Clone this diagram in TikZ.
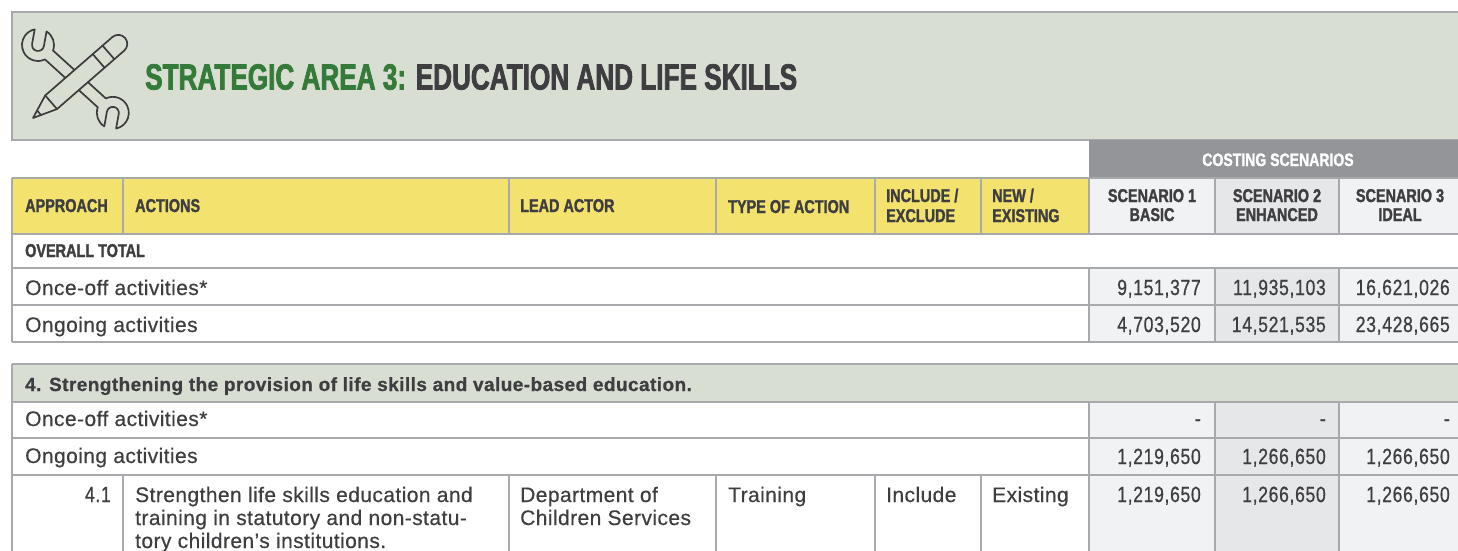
\documentclass[tikz,border=0pt]{standalone}
\usepackage{fontspec}
\setmainfont{Liberation Sans}
\newfontfamily\bodyfont{Liberation Sans}[LetterSpace=2,FakeBold=0.4]
\newfontfamily\numfont{Liberation Sans}[FakeStretch=0.8,LetterSpace=3,FakeBold=0.6]
\newfontfamily\hdfont{Liberation Sans Bold}[FakeStretch=0.78,FakeBold=1.5]
\newfontfamily\secfont{Liberation Sans Bold}[LetterSpace=2.3,FakeBold=0.8]
\newfontfamily\titlefont{Liberation Sans Bold}[FakeStretch=0.72,FakeBold=2]
\definecolor{bgbox}{RGB}{217,222,211}
\definecolor{bordr}{RGB}{167,169,172}
\definecolor{yel}{RGB}{243,227,110}
\definecolor{costgray}{RGB}{147,149,152}
\definecolor{scA}{RGB}{241,242,243}
\definecolor{scB}{RGB}{230,231,232}
\definecolor{txt}{RGB}{62,62,64}
\definecolor{grn}{RGB}{52,122,56}
\definecolor{iconc}{RGB}{60,60,60}
\begin{document}
\begin{tikzpicture}[x=1pt,y=-1pt,
  hd/.style={font=\hdfont\fontsize{18.5}{21}\selectfont, text=txt, inner sep=0pt, anchor=base west},
  hdc/.style={hd, anchor=base},
  bd/.style={font=\bodyfont\fontsize{21}{24}\selectfont, text=txt, inner sep=0pt, anchor=base west},
  nm/.style={font=\numfont\fontsize{22}{24}\selectfont, text=txt, inner sep=0pt, anchor=base east},
  gridline/.style={draw=bordr, line width=1.4pt},
  icon/.style={draw=iconc, line width=1.7pt, line join=round, line cap=round}]
\useasboundingbox (0,0) rectangle (1458,551);
\clip (0,0) rectangle (1458,551);
\fill[white] (0,0) rectangle (1458,551);

% title box
\fill[bgbox] (12,12) rectangle (1470,140);
\draw[gridline] (1470,12) -- (12,12) -- (12,140) -- (1470,140);

% costing band
\fill[costgray] (1089,140) rectangle (1470,178);

% header row fills
\fill[yel] (12,178) rectangle (1089,234);
\fill[scA] (1089,178) rectangle (1215,234);
\fill[scB] (1215,178) rectangle (1339,234);
\fill[scA] (1339,178) rectangle (1470,234);
% top table scenario cells
\fill[scA] (1089,268) rectangle (1215,342);
\fill[scB] (1215,268) rectangle (1339,342);
\fill[scA] (1339,268) rectangle (1470,342);
% section table
\fill[bgbox] (12,364) rectangle (1470,402);
\fill[scA] (1089,402) rectangle (1215,560);
\fill[scB] (1215,402) rectangle (1339,560);
\fill[scA] (1339,402) rectangle (1470,560);

% grid top table
\foreach \yy in {178,234,268,305,342} \draw[gridline] (12,\yy) -- (1470,\yy);
\draw[gridline] (12,178) -- (12,342);
\foreach \xx in {123,509,716,875,981,1089,1215,1339} \draw[gridline] (\xx,178) -- (\xx,234);
\foreach \xx in {1089,1215,1339} \draw[gridline] (\xx,268) -- (\xx,342);
% grid section table
\foreach \yy in {364,402,438,475} \draw[gridline] (12,\yy) -- (1470,\yy);
\draw[gridline] (12,364) -- (12,560);
\foreach \xx in {1089,1215,1339} \draw[gridline] (\xx,402) -- (\xx,560);
\foreach \xx in {123,509,716,875,981} \draw[gridline] (\xx,475) -- (\xx,560);

% title
\node[anchor=base west, inner sep=0pt, font=\titlefont\fontsize{36.3}{40}\selectfont] (title) at (145,89.5)
  {\textcolor{grn}{STRATEGIC AREA 3:} \textcolor{txt}{EDUCATION AND LIFE SKILLS}};

% header texts
\node[hdc, text=white, font=\hdfont\fontsize{18}{20}\selectfont] (cost) at (1278,166) {COSTING SCENARIOS};
\node[hd] (hA) at (25,212) {APPROACH};
\node[hd] (hB) at (135,212) {ACTIONS};
\node[hd] (hC) at (520,212) {LEAD ACTOR};
\node[hd] (hD) at (728,213) {TYPE OF ACTION};
\node[hd] (hE1) at (886,202) {INCLUDE /};
\node[hd] (hE2) at (886,222) {EXCLUDE};
\node[hd] (hF1) at (992,202) {NEW /};
\node[hd] (hF2) at (992,222) {EXISTING};
\node[hdc] (s1a) at (1152,202) {SCENARIO 1};
\node[hdc] (s1b) at (1152,221) {BASIC};
\node[hdc] (s2a) at (1277,202) {SCENARIO 2};
\node[hdc] (s2b) at (1277,221) {ENHANCED};
\node[hdc] (s3a) at (1400,202) {SCENARIO 3};
\node[hdc] (s3b) at (1400,221) {IDEAL};

% top table body
\node[hd] (ot) at (25,257) {OVERALL TOTAL};
\node[bd] (r1) at (25,295) {Once-off activities*};
\node[bd] (r2) at (25,332) {Ongoing activities};
\node[nm] (v11) at (1201,295) {9,151,377};
\node[nm] (v12) at (1326,295) {11,935,103};
\node[nm] (v13) at (1450,295) {16,621,026};
\node[nm] (v21) at (1201,332) {4,703,520};
\node[nm] (v22) at (1326,332) {14,521,535};
\node[nm] (v23) at (1450,332) {23,428,665};

% section table
\node[anchor=base west, inner sep=0pt, text=txt, font=\secfont\fontsize{19}{22}\selectfont] (sec) at (25,391)
  {4. Strengthening the provision of life skills and value-based education.};
\node[bd] (q1) at (25,426) {Once-off activities*};
\node[bd] (q2) at (25,463) {Ongoing activities};
\node[nm] (w11) at (1201,426) {-};
\node[nm] (w12) at (1326,426) {-};
\node[nm] (w13) at (1450,426) {-};
\node[nm] (w21) at (1201,464) {1,219,650};
\node[nm] (w22) at (1326,464) {1,266,650};
\node[nm] (w23) at (1450,464) {1,266,650};

\node[nm] (a41) at (111,502) {4.1};
\node[bd] (t1) at (135,502) {Strengthen life skills education and};
\node[bd] (t2) at (135,525) {training in statutory and non-statu-};
\node[bd] (t3) at (135,548) {tory children’s institutions.};
\node[bd] (d1) at (520,502) {Department of};
\node[bd] (d2) at (520,525) {Children Services};
\node[bd] (tr) at (728,502) {Training};
\node[bd] (inc) at (886,502) {Include};
\node[bd] (ex) at (992,502) {Existing};
\node[nm] (x1) at (1201,502) {1,219,650};
\node[nm] (x2) at (1326,502) {1,266,650};
\node[nm] (x3) at (1450,502) {1,266,650};

% icon: wrench
\begin{scope}[shift={(38,45)}, rotate=-42.2, yscale=-1]
\draw[icon] (14.83,6) -- (86.17,6)
  arc[start angle=157.98, end angle=-35.98, radius=16]
  -- (106.09,3.18)
  arc[start angle=32, end angle=212, radius=6]
  -- (103.77,-15.76)
  arc[start angle=-80.02, end angle=-157.98, radius=16]
  -- (14.83,-6)
  arc[start angle=-22.02, end angle=-215.98, radius=16]
  -- (-5.09,-3.18)
  arc[start angle=212, end angle=392, radius=6]
  -- (-2.77,15.76)
  arc[start angle=99.98, end angle=22.02, radius=16] -- cycle;
\end{scope}
% icon: pencil
\begin{scope}[shift={(33,118)}, rotate=41, yscale=-1]
\draw[icon, fill=bgbox] (0,0) -- (24,9) -- (113,9)
  arc[start angle=90, end angle=-90, radius=9] -- (24,-9) -- cycle;
\draw[icon] (24,9) -- (24,-9);
\draw[icon] (87,9) -- (87,-9);
\draw[icon] (100,9) -- (100,-9);
\draw[icon] (8,3) -- (8,-3);
\end{scope}
\end{tikzpicture}
\end{document}
